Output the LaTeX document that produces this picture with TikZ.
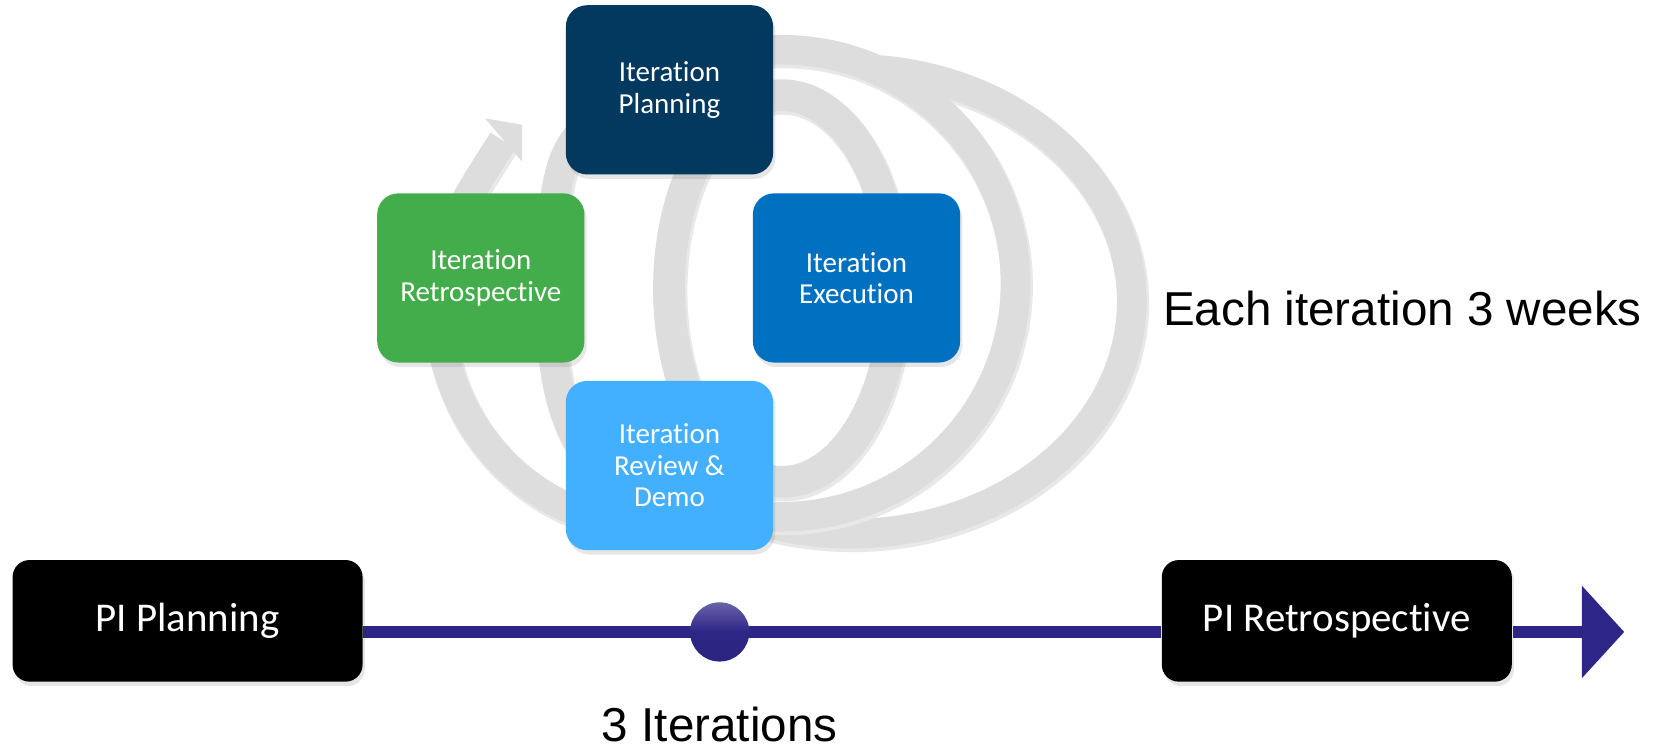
\documentclass[tikz,border=0pt]{standalone}
\usepackage{fontspec}
\setmainfont{Carlito}[Ligatures=NoCommon]
\newfontfamily\arialfont{Liberation Sans}
\usetikzlibrary{arrows.meta, shapes, shadows}

\definecolor{plannavy}{RGB}{3,56,95}
\definecolor{retrogreen}{RGB}{66,173,74}
\definecolor{execblue}{RGB}{0,112,192}
\definecolor{reviewblue}{RGB}{67,176,255}
\definecolor{ringgray}{RGB}{221,221,221}
\definecolor{lineindigo}{RGB}{46,38,134}

\begin{document}
\begin{tikzpicture}[x=0.01cm, y=-0.01cm,
    stage/.style={rectangle, fill=#1, rounded corners=0.2cm, minimum width=1.96cm,
      minimum height=1.60cm, text=white, align=center,
      font=\fontsize{7.8}{8.5}\selectfont,
      drop shadow={opacity=0.2, shadow xshift=0.6pt, shadow yshift=-1.2pt}},
    pibox/.style={rectangle, fill=black, rounded corners=0.16cm, minimum width=3.31cm,
      minimum height=1.15cm, text=white, font=\fontsize{11}{13}\selectfont,
      drop shadow={opacity=0.2, shadow xshift=0.6pt, shadow yshift=-1.2pt}},
    ring/.style={draw=ringgray, line width=#1,
      preaction={draw=black!9, line width=#1+0.6pt, transform canvas={shift={(0.4pt,-0.7pt)}}}},
    ring/.default=0.28cm,
    timeline/.style={draw=lineindigo, line width=0.11cm},
    dot/.style={circle, minimum size=0.56cm, inner sep=0, top color=lineindigo!72!white,
      bottom color=lineindigo!95!black, middle color=lineindigo},
    note/.style={font=\arialfont\fontsize{12.8}{15}\selectfont, inner sep=0}]

  \useasboundingbox (0,0) rectangle (1568,708);

  % Spiral
  \draw[ring] plot[domain=-84:120, samples=90] ({805+266*cos(\x)}, {285+220*sin(\x)});
  \draw[ring] plot[domain=-95:95, samples=80] ({740+221*cos(\x)}, {268+221*sin(\x)});
  \draw[ring=0.30cm] plot[domain=0:360, samples=120] ({740+107*cos(\x)}, {273+183*sin(\x)}) -- cycle;
  \draw[ring] (600,110) .. controls (540,112) and (521,140) .. (521,270)
    .. controls (521,360) and (530,410) .. (580,460);
  \draw[ring] (600,495) .. controls (530,495) and (425,430) .. (415,300)
    .. controls (413,225) and (440,190) .. (476,133);
  \fill[ringgray] (459,112) -- (494,118) -- (494,153) -- cycle;

  % Nodes
  \node[stage=plannavy] (plan) at (633.5,85) {Iteration\\Planning};
  \node[stage=retrogreen] (retro) at (455,263) {Iteration\\Retrospective};
  \node[stage=execblue] (exec) at (810.5,263) {Iteration\\Execution};
  \node[stage=reviewblue] (review) at (633.5,440.5) {Iteration\\Review \&\\Demo};

  \node[pibox] (pip) at (177.5,587.5) {PI Planning};
  \node[pibox] (pir) at (1265,587.5) {PI Retrospective};
  \coordinate (tip) at (1537,598);

  \node[note, anchor=base west] (weeks) at (1100,308) {Each iteration 3 weeks};
  \node[note, anchor=base] (count) at (681,702) {3 Iterations};

  % Edges
  \draw[timeline] (pip.east |- tip) -- (pir.west |- tip);
  \node[dot] (dot) at (681,598) {};
  \draw[timeline, -{Triangle[length=0.40cm, width=0.85cm]}] (pir.east |- tip) -- (tip);

\end{tikzpicture}
\end{document}
